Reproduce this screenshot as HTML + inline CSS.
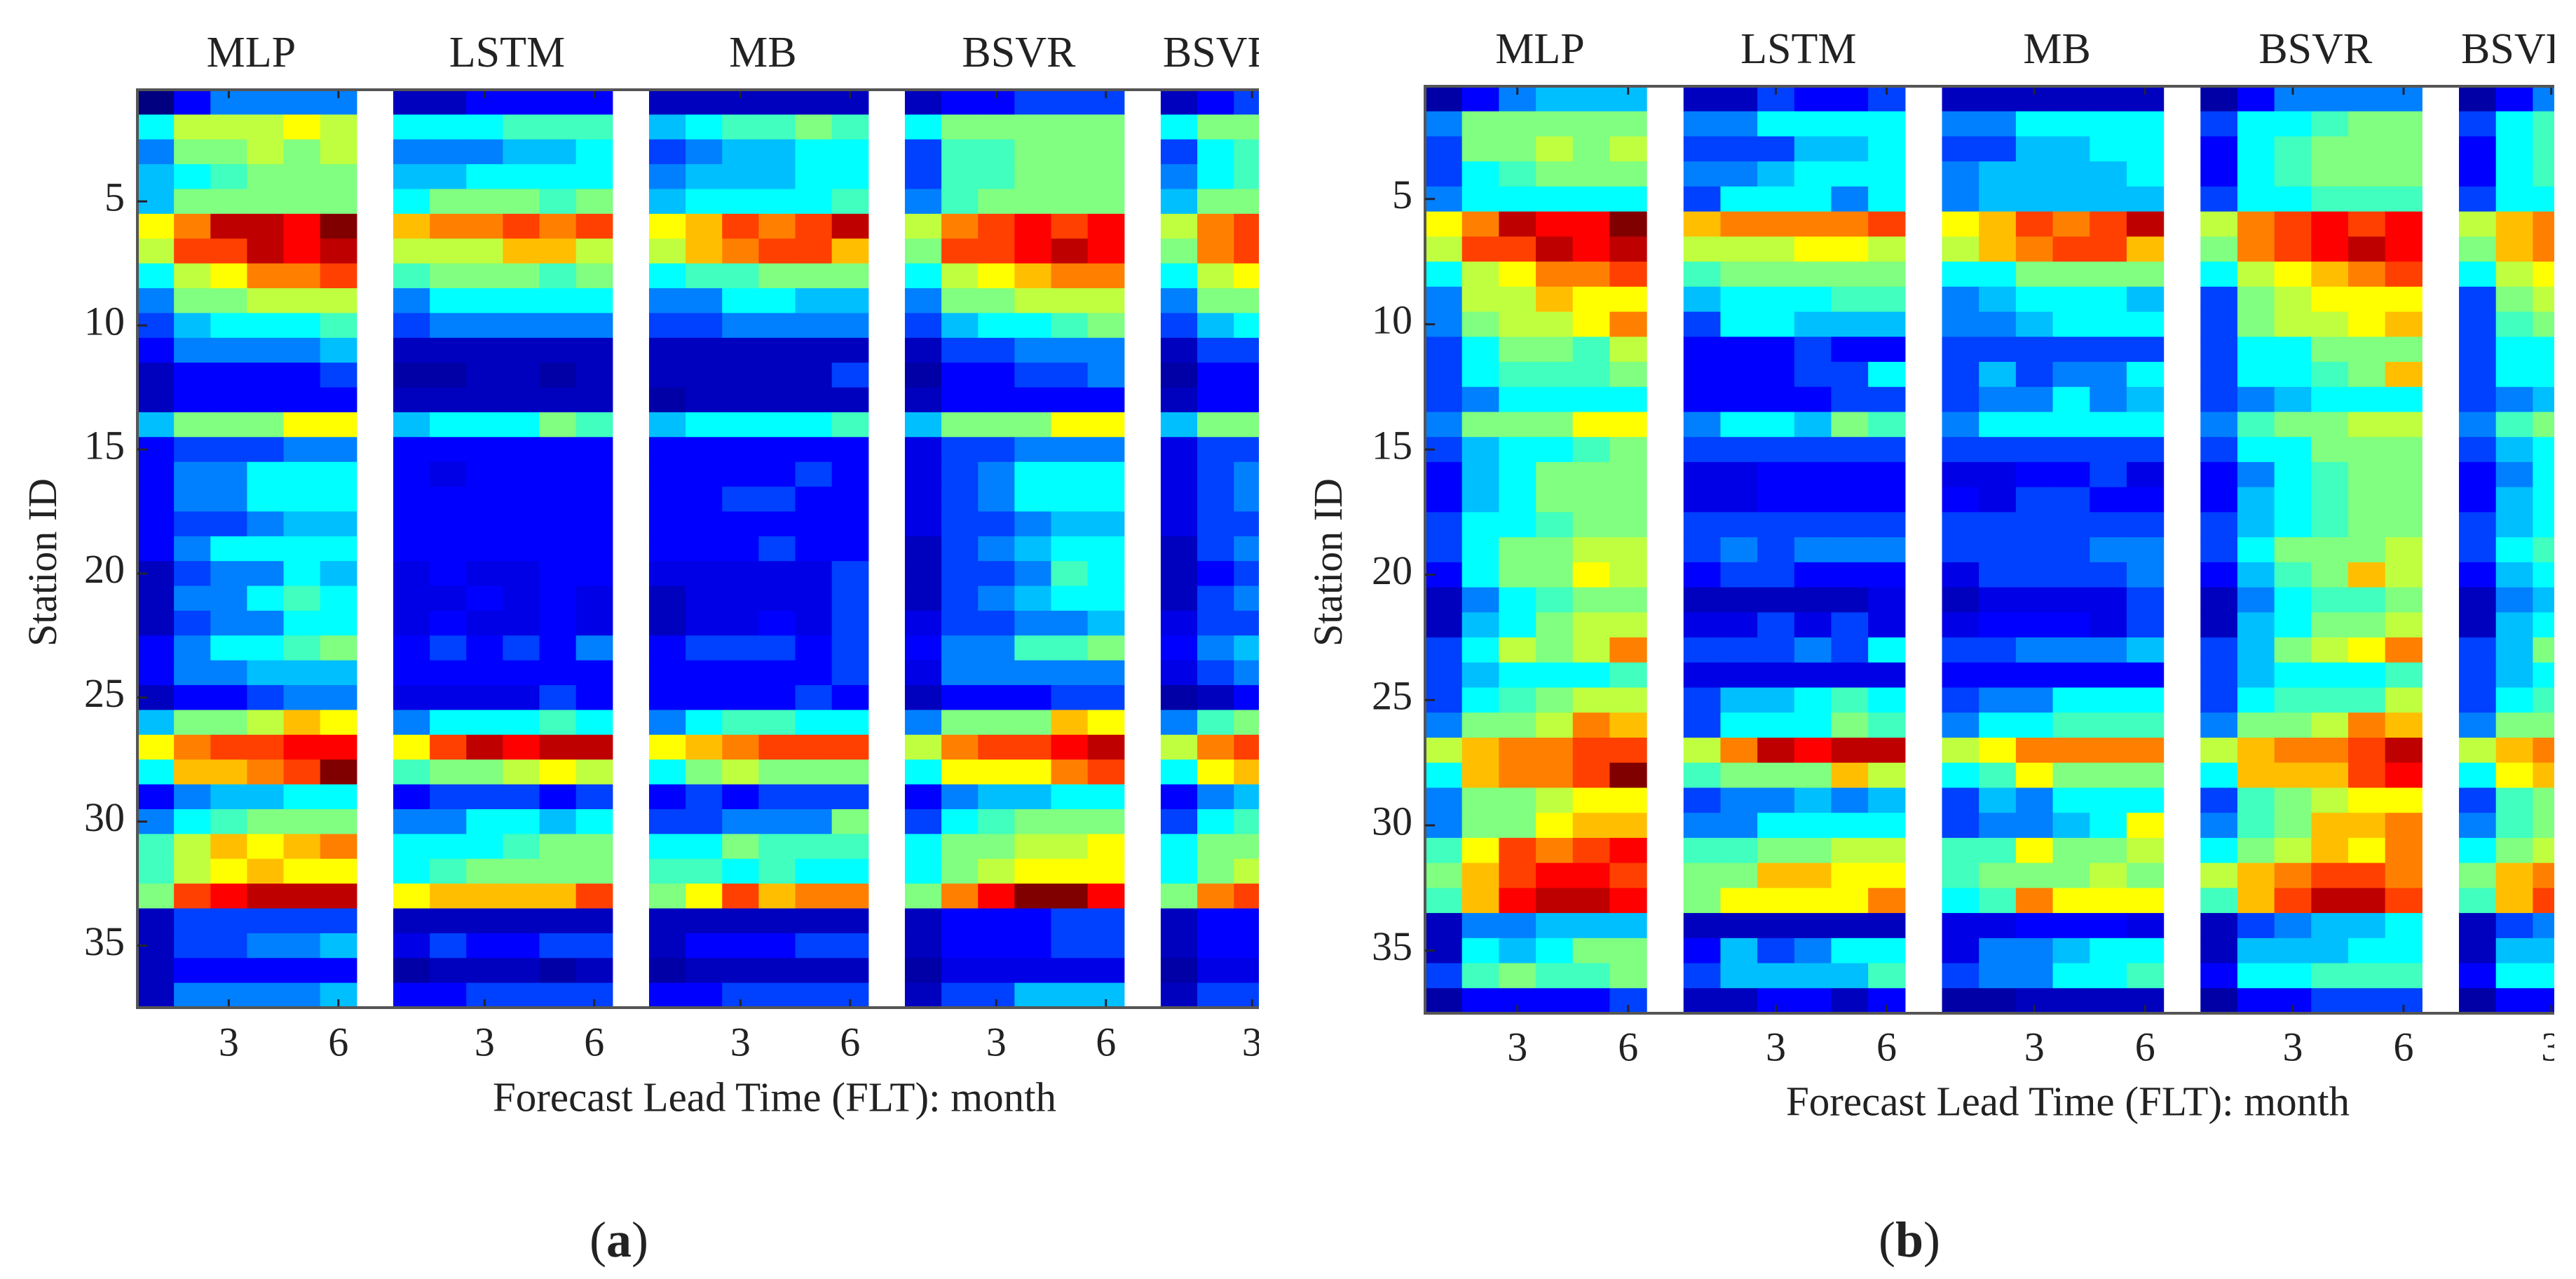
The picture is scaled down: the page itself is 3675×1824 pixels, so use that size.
<!DOCTYPE html>
<html><head><meta charset="utf-8"><style>
html,body{margin:0;padding:0;background:#fff;}
svg{display:block;}
text{font-family:"Liberation Serif",serif;fill:#222;}
</style></head><body>
<svg id="chart" width="3675" height="1824" viewBox="0 0 3675 1824" xmlns="http://www.w3.org/2000/svg">
<defs>
<clipPath id="clipA"><rect x="0" y="0" width="1796" height="1824"/></clipPath>
<clipPath id="clipB"><rect x="1830" y="0" width="1814" height="1824"/></clipPath>
</defs>
<g id="panelA" clip-path="url(#clipA)"></g>
<g id="panelB" clip-path="url(#clipB)"></g>
<text x="883" y="1792" font-size="72" text-anchor="middle">(<tspan font-weight="bold">a</tspan>)</text>
<text x="2724" y="1792" font-size="72" text-anchor="middle">(<tspan font-weight="bold">b</tspan>)</text>
</svg>
<script>
const models = ["MLP","LSTM","MB","BSVR","BSVR"];
const xTickLabels = ["3","6"];
const yTickLabels = [5,10,15,20,25,30,35];
const nStations = 37;

const mlpA = [[0,1,2,2,2,2],[3,4.5,4.5,4.5,5,4.5],[2,4,4,4.5,4,4.5],[2.5,3,3.5,4,4,4],[2.5,4,4,4,4,4],[5,6,7.5,7.5,7,8],[4.5,6.5,6.5,7.5,7,7.5],[3,4.5,5,6,6,6.5],[2,4,4,4.5,4.5,4.5],[1.5,2.5,3,3,3,3.5],[1,2,2,2,2,2.5],[0.5,1,1,1,1,1.5],[0.5,1,1,1,1,1],[2.5,4,4,4,5,5],[1,1.5,1.5,1.5,2,2],[1,2,2,3,3,3],[1,2,2,3,3,3],[1,1.5,1.5,2,2.5,2.5],[1,2,3,3,3,3],[0.5,1.5,2,2,3,2.5],[0.5,2,2,3,3.5,3],[0.5,1.5,2,2,3,3],[1,2,3,3,3.5,4],[1,2,2,2.5,2.5,2.5],[0.5,1,1,1.5,2,2],[2.5,4,4,4.5,5.5,5],[5,6,6.5,6.5,7,7],[3,5.5,5.5,6,6.5,8],[1,2,2.5,2.5,3,3],[2,3,3.5,4,4,4],[3.5,4.5,5.5,5,5.5,6],[3.5,4.5,5,5.5,5,5],[4,6.5,7,7.5,7.5,7.5],[0.5,1.5,1.5,1.5,1.5,1.5],[0.5,1.5,1.5,2,2,2.5],[0.5,1,1,1,1,1],[0.5,2,2,2,2,2.5]];
const lstmA = [[0.5,0.5,1,1,1,1],[3,3,3,3.5,3.5,3.5],[2,2,2,2.5,2.5,3],[2.5,2.5,3,3,3,3],[3,4,4,4,3.5,4],[5.5,6,6,6.5,6,6.5],[4.5,4.5,4.5,5.5,5.5,4.5],[3.5,4,4,4,3.5,4],[2,3,3,3,3,3],[1.5,2,2,2,2,2],[0.5,0.5,0.5,0.5,0.5,0.5],[0.3,0.3,0.5,0.5,0.3,0.5],[0.5,0.5,0.5,0.5,0.5,0.5],[2.5,3,3,3,4,3.5],[1,1,1,1,1,1],[1,0.8,1,1,1,1],[1,1,1,1,1,1],[1,1,1,1,1,1],[1,1,1,1,1,1],[0.8,1,0.8,0.8,1,1],[0.8,0.8,1,0.8,1,0.8],[0.8,1,0.8,0.8,1,0.8],[1,1.5,1,1.5,1,2],[1,1,1,1,1,1],[0.8,0.8,0.8,0.8,1.5,1],[2,3,3,3,3.5,3],[5,6.5,7.5,7,7.5,7.5],[3.5,4,4,4.5,5,4.5],[1,1.5,1.5,1.5,1,1.5],[2,2,3,3,2.5,3],[3,3,3,3.5,4,4],[3,3.5,4,4,4,4],[5,5.5,5.5,5.5,5.5,6.5],[0.5,0.5,0.5,0.5,0.5,0.5],[0.8,1.5,1,1,1.5,1.5],[0.3,0.5,0.5,0.5,0.3,0.5],[1,1,1.5,1.5,1.5,1.5]];
const mbA = [[0.5,0.5,0.5,0.5,0.5,0.5],[2.5,3,3.5,3.5,4,3.5],[1.5,2,2.5,2.5,3,3],[2,2.5,2.5,2.5,3,3],[2.5,3,3,3,3,3.5],[5,5.5,6.5,6,6.5,7.5],[4.5,5.5,6,6.5,6.5,5.5],[3,3.5,3.5,4,4,4],[2,2,3,3,2.5,2.5],[1.5,1.5,2,2,2,2],[0.5,0.5,0.5,0.5,0.5,0.5],[0.5,0.5,0.5,0.5,0.5,1.5],[0.3,0.5,0.5,0.5,0.5,0.5],[2.5,3,3,3,3,3.5],[1,1,1,1,1,1],[1,1,1,1,1.5,1],[1,1,1.5,1.5,1,1],[1,1,1,1,1,1],[1,1,1,1.5,1,1],[0.8,0.8,0.8,0.8,0.8,1.5],[0.5,0.8,0.8,0.8,0.8,1.5],[0.5,0.8,0.8,1,0.8,1.5],[1,1.5,1.5,1.5,1,1.5],[1,1,1,1,1,1.5],[1,1,1,1,1.5,1],[2,3,3.5,3.5,3,3],[5,5.5,6,6.5,6.5,6.5],[3,4,4.5,4,4,4],[1,1.5,1,1.5,1.5,1.5],[1.5,1.5,2,2,2,4],[3,3,4,3.5,3.5,3.5],[3.5,3.5,3,3.5,3,3],[4,5,6.5,5.5,6,6],[0.5,0.5,0.5,0.5,0.5,0.5],[0.5,1,1,1,1.5,1.5],[0.3,0.5,0.5,0.5,0.5,0.5],[1,1,1.5,1.5,1.5,1.5]];
const bsvrA = [[0.5,1,1,1.5,1.5,1.5],[3,4,4,4,4,4],[1.5,3.5,3.5,4,4,4],[1.5,3.5,3.5,4,4,4],[2,3.5,4,4,4,4],[4.5,6,6.5,7,6.5,7],[4,6.5,6.5,7,7.5,7],[3,4.5,5,5.5,6,6],[2,4,4,4.5,4.5,4.5],[1.5,2.5,3,3,3.5,4],[0.5,1.5,1.5,2,2,2],[0.3,1,1,1.5,1.5,2],[0.5,1,1,1,1,1],[2.5,4,4,4,5,5],[0.8,1.5,1.5,2,2,2],[0.8,1.5,2,3,3,3],[0.8,1.5,2,3,3,3],[0.8,1.5,1.5,2,2.5,2.5],[0.5,1.5,2,2.5,3,3],[0.5,1.5,1.5,2,3.5,3],[0.5,1.5,2,2.5,3,3],[0.8,1.5,1.5,2,2,2.5],[1,2,2,3.5,3.5,4],[0.8,2,2,2,2,2],[0.5,1,1,1,1.5,1.5],[2,4,4,4,5.5,5],[4.5,6,6.5,6.5,7,7.5],[3,5,5,5,6,6.5],[1,2,2.5,2.5,3,3],[1.5,3,3.5,4,4,4],[3,4,4,4.5,4.5,5],[3,4,4.5,5,5,5],[4,6,7,8,8,7],[0.5,1,1,1,1.5,1.5],[0.5,1,1,1,1.5,1.5],[0.3,0.8,0.8,0.8,0.8,0.8],[0.5,1.5,1.5,2.5,2.5,2.5]];
const lastA = [[0.5,1,1.5],[3,4,4],[1.5,3,3.5],[2,3,3.5],[2.5,4,4],[4.5,6,6.5],[4,6,6.5],[3,4.5,5],[2,4,4],[1.5,2.5,3],[0.5,1.5,1.5],[0.3,1,1],[0.5,1,1],[2.5,4,4],[0.8,1.5,1.5],[0.8,1.5,2],[0.8,1.5,2],[0.8,1.5,1.5],[0.5,1.5,2],[0.5,1,1.5],[0.5,1.5,2],[0.8,1.5,1.5],[1,2,2.5],[0.8,1.5,2],[0.3,0.5,1],[2,3.5,4],[4.5,6,6.5],[3,5,5.5],[1,2,2.5],[1.5,3,3.5],[3,4,4],[3,4,4.5],[4,6,6.5],[0.5,1,1],[0.5,1,1],[0.3,0.8,0.8],[0.5,1.5,1.5]];

const mlpB = [[0.3,1,2,2.5,2.5,2.5],[2,4,4,4,4,4],[1.5,4,4,4.5,4,4.5],[1.5,3,3.5,4,4,4],[2,3,3,3,3,3],[5,6,7.5,7,7,8],[4.5,6.5,6.5,7.5,7,7.5],[3,4.5,5,6,6,6.5],[2,4.5,4.5,5.5,5,5],[2,4,4.5,4.5,5,6],[1.5,3,4,4,3.5,4.5],[1.5,3,3.5,3.5,3.5,4],[1.5,2,3,3,3,3],[2,4,4,4,5,5],[1.5,2.5,3,3,3.5,4],[1,2.5,3,4,4,4],[1,2.5,3,4,4,4],[1.5,3,3,3.5,4,4],[1.5,3,4,4,4.5,4.5],[1,3,4,4,5,4.5],[0.5,2,3,3.5,4,4],[0.5,2.5,3,4,4.5,4.5],[1.5,3,4.5,4,4.5,6],[1.5,2.5,3,3,3,3.5],[1.5,3,3.5,4,4.5,4.5],[2,4,4,4.5,6,5.5],[4.5,5.5,6,6,6.5,6.5],[3,5.5,6,6,6.5,8],[2,4,4,4.5,5,5],[2,4,4,5,5.5,5.5],[3.5,5,6.5,6,6.5,7],[4,5.5,6.5,7,7,6.5],[3.5,5.5,7,7.5,7.5,7],[0.5,2,2,2.5,2.5,2.5],[0.5,3,2.5,3,4,4],[1.5,3.5,4,3.5,3.5,4],[0.3,1,1,1,1,1.5]];
const lstmB = [[0.5,0.5,1.5,1,1,1.5],[2,2,3,3,3,3],[1.5,1.5,1.5,2.5,2.5,3],[2,2,2.5,3,3,3],[1.5,3,3,3,2,3],[5.5,6,6,6,6,6.5],[4.5,4.5,4.5,5,5,4.5],[3.5,4,4,4,4,4],[2.5,3,3,3,3.5,3.5],[1.5,3,3,2.5,2.5,2.5],[1,1,1,1.5,1,1],[1,1,1,1.5,1.5,3],[1,1,1,1,1.5,1.5],[2,3,3,2.5,4,3.5],[1.5,1.5,1.5,1.5,1.5,1.5],[0.8,0.8,1,1,1,1],[0.8,0.8,1,1,1,1],[1.5,1.5,1.5,1.5,1.5,1.5],[1.5,2,1.5,2,2,2],[1,1.5,1.5,1,1,1],[0.5,0.5,0.5,0.5,0.5,0.8],[0.8,0.8,1.5,0.8,1.5,0.8],[1.5,1.5,1.5,2,1.5,3],[0.8,0.8,0.8,0.8,0.8,0.8],[1.5,2.5,2.5,3,3.5,3],[1.5,3,3,3,4,3.5],[4.5,6,7.5,7,7.5,7.5],[3.5,4,4,4,5.5,4.5],[1.5,2,2,2.5,2,2.5],[2,2,3,3,3,3],[3.5,3.5,4,4,4.5,4.5],[4,4,5.5,5.5,5,5],[4,5,5,5,5,6],[0.5,0.5,0.5,0.5,0.5,0.5],[1,2.5,1.5,2,3,3],[1.5,2.5,2.5,2.5,2.5,3.5],[0.5,0.5,1,1,0.5,1]];
const mbB = [[0.5,0.5,0.5,0.5,0.5,0.5],[2,2,3,3,3,3],[1.5,1.5,2.5,2.5,3,3],[2,2.5,2.5,2.5,2.5,3],[2,2.5,2.5,2.5,2.5,2.5],[5,5.5,6.5,6,6.5,7.5],[4.5,5.5,6,6.5,6.5,5.5],[3,3,4,4,4,4],[2,2.5,3,3,3,2.5],[2,2,2.5,3,3,3],[1.5,1.5,1.5,1.5,1.5,1.5],[1.5,2.5,1.5,2,2,3],[1.5,2,2,3,2,2.5],[2,3,3,3,3,3],[1.5,1.5,1.5,1.5,1.5,1.5],[0.8,0.8,1,1,1.5,0.8],[1,0.8,1.5,1.5,1,1],[1.5,1.5,1.5,1.5,1.5,1.5],[1.5,1.5,1.5,1.5,2,2],[0.8,1.5,1.5,1.5,1.5,2],[0.5,0.8,0.8,0.8,0.8,1.5],[0.8,1,1,1,0.8,1.5],[1.5,1.5,2,2,2,2.5],[1,1,1,1,1,1],[1.5,2,2,3,3,3],[2,3,3,3.5,3.5,3.5],[4.5,5,6,6,6,6],[3,3.5,5,4,4,4],[1.5,2.5,2,3,3,3],[1.5,2,2,2.5,3,5],[3.5,3.5,5,4,4,4.5],[3.5,4,4,4,4.5,4],[3,3.5,6,5,5,5],[0.8,0.8,1,1,1,0.8],[0.8,2,2,2.5,3,3],[1.5,2,2,3,3,3.5],[0.3,0.3,0.5,0.5,0.5,0.5]];
const bsvrB = [[0.3,1,2,2,2,2],[1.5,3,3,3.5,4,4],[1,3,3.5,4,4,4],[1,3,3.5,4,4,4],[1.5,3,3,3.5,3.5,3.5],[4.5,6,6.5,7,6.5,7],[4,6,6.5,7,7.5,7],[3,4.5,5,5.5,6,6.5],[1.5,4,4.5,5,5,5],[1.5,4,4.5,4.5,5,5.5],[1.5,3,3,4,4,4],[1.5,3,3,3.5,4,5.5],[1.5,2,2.5,3,3,3],[2,3.5,4,4,4.5,4.5],[1.5,3,3,4,4,4],[1,2,3,3.5,4,4],[1,2.5,3,3.5,4,4],[1.5,2.5,3,3.5,4,4],[1.5,3,4,4,4,4.5],[1,2.5,3.5,4,5.5,4.5],[0.5,2,3,3.5,3.5,4],[0.5,2.5,3,4,4,4.5],[1.5,2.5,4,4.5,5,6],[1.5,2.5,3,3,3,3.5],[1.5,3,3.5,3.5,3.5,4.5],[2,4,4,4.5,6,5.5],[4.5,5.5,6,6,6.5,7.5],[3,5.5,5.5,5.5,6.5,7],[1.5,3.5,4,4.5,5,5],[2,3.5,4,5.5,5.5,6],[3,4,4.5,5.5,5,6],[4.5,5.5,6,6.5,6.5,6],[3.5,5.5,6.5,7.5,7.5,6.5],[0.5,1.5,2,2.5,2.5,3],[0.5,2.5,2.5,2.5,3,3],[1,3,3,3.5,3.5,3.5],[0.3,1,1,1.5,1.5,1.5]];
const lastB = [[0.3,1,2],[1.5,3,3.5],[1,3,3.5],[1,3,3.5],[1.5,3,3],[4.5,5.5,6],[4,5.5,6],[3,4.5,5],[1.5,4,4.5],[1.5,3.5,4],[1.5,3,3],[1.5,3,3],[1.5,2,2.5],[2,3.5,4],[1.5,2.5,3],[1,2,3],[1,2.5,3],[1.5,2.5,3],[1.5,3,3.5],[1,2.5,3],[0.5,2,2.5],[0.5,2.5,3],[1.5,2.5,4],[1.5,2.5,3],[1.5,3,3.5],[2,4,4],[4.5,5.5,6],[3,5,5.5],[1.5,3.5,4],[2,3.5,4],[3,4,4.5],[4,5.5,6],[3.5,5.5,6.5],[0.5,1.5,2],[0.5,2.5,2.5],[1,3,3],[0.3,1,1]];

const NS = "http://www.w3.org/2000/svg";
function jet(v){
  const t = Math.max(0, Math.min(1, v/8));
  const c = x => Math.round(255*Math.max(0, Math.min(1, x)));
  return "rgb("+c(1.5-Math.abs(4*t-3))+","+c(1.5-Math.abs(4*t-2))+","+c(1.5-Math.abs(4*t-1))+")";
}
function mk(tag, attrs, parent){
  const e = document.createElementNS(NS, tag);
  for (const k in attrs) e.setAttribute(k, attrs[k]);
  parent.appendChild(e);
  return e;
}
function drawPanel(g, cfg, blocks, tag){
  const rowH = (cfg.bottom - cfg.top) / nStations;
  const xCol = (b, c) => cfg.left + (b*7 + c) * cfg.colW;
  const yRow = r => cfg.top + r * rowH;
  blocks.forEach((data, b) => {
    const bg = mk("g", {}, g);
    
    
    data.forEach((row, r) => {
      row.forEach((v, c) => {
        const rc = mk("rect", {x: xCol(b,c).toFixed(2), y: yRow(r).toFixed(2), width: (cfg.colW+0.6).toFixed(2), height: (rowH+0.6).toFixed(2), fill: jet(v)}, bg);
        
        
      });
    });
    const isLast = b === blocks.length - 1;
    const t = mk("text", {x: isLast ? (xCol(b,0) + 3).toFixed(1) : (xCol(b,3) + 6).toFixed(1), y: cfg.titleY, "font-size": 62, "text-anchor": isLast ? "start" : "middle"}, g);
    t.textContent = models[b];
    
    
    xTickLabels.forEach(lbl => {
      const c = parseInt(lbl) - 1;
      const xc = xCol(b, c) + cfg.colW/2;
      mk("line", {x1: xc, x2: xc, y1: cfg.bottom, y2: cfg.bottom-12, stroke: "#223", "stroke-width": 3}, g);
      mk("line", {x1: xc, x2: xc, y1: cfg.top, y2: cfg.top+12, stroke: "#223", "stroke-width": 3}, g);
      const tl = mk("text", {x: xc, y: cfg.tickY, "font-size": 58, "text-anchor": "middle", "dominant-baseline": "middle"}, g);
      tl.textContent = lbl;
      
      
    });
  });
  const ax = mk("path", {d: "M"+cfg.right+","+cfg.top+" H"+cfg.left+" V"+cfg.bottom+" H"+cfg.right, fill: "none", stroke: "#555", "stroke-width": 4}, g);
  
  
  yTickLabels.forEach(s => {
    const yc = yRow(s - 0.5);
    mk("line", {x1: cfg.left, x2: cfg.left+14, y1: yc, y2: yc, stroke: "#223", "stroke-width": 3}, g);
    const tl = mk("text", {x: cfg.left - 18, y: yc, "font-size": 58, "text-anchor": "end", "dominant-baseline": "middle"}, g);
    tl.textContent = s;
    
    
  });
  const yt = mk("text", {x: cfg.yTitleX, y: 802, "font-size": 58, "text-anchor": "middle", transform: "rotate(-90 "+cfg.yTitleX+" 802)"}, g);
  yt.textContent = "Station ID";
  
  
  const xt = mk("text", {x: cfg.xTitleX, y: cfg.xTitleY, "font-size": 59, "text-anchor": "middle", "dominant-baseline": "middle"}, g);
  xt.textContent = "Forecast Lead Time (FLT): month";
  
  
}
drawPanel(document.getElementById("panelA"),
  {left:196, top:128, bottom:1437, right:1796, colW:52.14, titleY:95, tickY:1492, yTitleX:80, xTitleX:1105, xTitleY:1571},
  [mlpA, lstmA, mbA, bsvrA, lastA], "a");
drawPanel(document.getElementById("panelB"),
  {left:2033, top:123, bottom:1445, right:3644, colW:52.68, titleY:90, tickY:1499, yTitleX:1914, xTitleX:2950, xTitleY:1577},
  [mlpB, lstmB, mbB, bsvrB, lastB], "b");
</script>
</body></html>
